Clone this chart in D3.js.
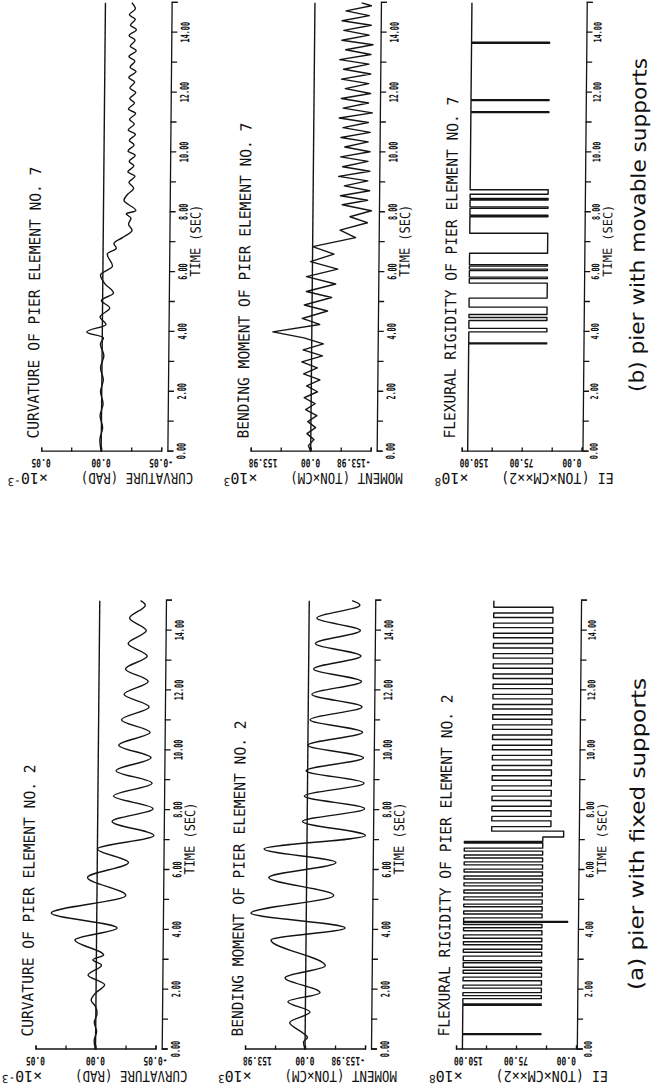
<!DOCTYPE html>
<html>
<head>
<meta charset="utf-8">
<script src="https://cdn.jsdelivr.net/npm/d3@7"></script>
<style>
  html, body { margin: 0; padding: 0; background: #fff; }
  svg { display: block; }
  .mono { font-family: "DejaVu Sans Mono", "Liberation Mono", monospace; fill: #111; }
  .cap { font-family: "DejaVu Sans", "Verdana", sans-serif; fill: #111; }
</style>
</head>
<body>
<svg id="chart" width="656" height="1089"></svg>
<script>
// ---------------------------------------------------------------
// Time histories of pier element response (fixed / movable supports)
// Values: curvature (x10^-3 rad), moment (x10^3 ton*cm), EI (x10^8 ton*cm^2)
// Each series is a list of [time (s), value] turning points.
// ---------------------------------------------------------------

const timeTicks = d3.range(0, 16, 1);
const timeLabels = [0, 2, 4, 6, 8, 10, 12, 14];

const curvatureTicks = [0.05, 0.025, 0, -0.025, -0.05];
const curvatureLabels = ["0.05", "0.00", "-0.05"];
const momentTicks = [153.98, 76.99, 0, -76.99, -153.98];
const momentLabels = ["153.98", "0.00", "-153.98"];
const eiTicks = [150, 112.5, 75, 37.5, 0];
const eiLabels = ["150.00", "75.00", "0.00"];

// (a) fixed supports, element No. 2
const curvatureFixed = [[0,0],[0.3,0.0012],[0.6,-0.0008],[0.9,0.0012],[1.2,-0.001],[1.45,0.0005],[1.65,0.004],[1.9,0.0],[2.16,-0.0071],[2.49,0.0068],[2.82,-0.0043],[3.0,0.003],[3.16,-0.006],[3.66,0.018],[4.06,-0.017],[4.56,0.038],[5.15,-0.024],[5.75,0.008],[6.25,-0.026],[6.7,0.0],[7.15,-0.047],[7.62,-0.012],[8.05,-0.046],[8.47,-0.013],[8.9,-0.045],[9.32,-0.015],[9.75,-0.044],[10.17,-0.017],[10.6,-0.043],[11.02,-0.019],[11.45,-0.042],[11.87,-0.021],[12.3,-0.041],[12.72,-0.022],[13.15,-0.040],[13.57,-0.024],[14.0,-0.039],[14.42,-0.025],[14.85,-0.038],[15,-0.034]];

const momentFixed = [[0,0],[0.25,4],[0.4,-6],[0.55,6],[0.9,40],[1.25,-12],[1.6,45],[1.9,-37],[2.4,53],[2.8,-50],[3.66,90],[4.06,-100],[4.56,142],[5.15,-70],[5.75,97],[6.25,-75],[6.7,110],[7.15,-150],[7.62,12],[8.05,-147],[8.47,8],[8.9,-145],[9.32,4],[9.75,-143],[10.17,0],[10.6,-140],[11.02,-5],[11.45,-138],[11.87,-9],[12.3,-136],[12.72,-13],[13.15,-134],[13.57,-17],[14.0,-132],[14.42,-20],[14.85,-130],[15,-110]];

const eiFixed = [[0,142],[0.5,44],[0.53,142],[1.48,44],[1.52,142],[1.7,44],[1.8,142],[1.9,44],[2.05,142],[2.15,44],[2.3,142],[2.42,44],[2.55,142],[2.65,44],[2.75,142],[2.9,44],[2.97,142],[3.12,44],[3.25,142],[3.35,44],[3.5,142],[3.6,44],[3.72,142],[3.83,44],[3.97,142],[4.07,44],[4.18,142],[4.25,12],[4.28,142],[4.4,44],[4.53,142],[4.63,44],[4.77,142],[4.86,44],[5.0,142],[5.1,44],[5.23,142],[5.33,44],[5.47,142],[5.57,44],[5.7,142],[5.8,44],[5.93,142],[6.03,44],[6.17,142],[6.27,44],[6.4,142],[6.5,44],[6.63,142],[6.73,44],[6.9,142],[6.95,44],[7.1,18],[7.3,108],[7.45,34],[7.64,108],[7.79,34],[7.98,108],[8.13,34],[8.32,108],[8.47,34],[8.66,108],[8.81,34],[9.0,108],[9.15,34],[9.34,108],[9.49,34],[9.68,108],[9.83,34],[10.02,108],[10.17,34],[10.36,108],[10.51,34],[10.7,108],[10.85,34],[11.04,108],[11.19,34],[11.38,108],[11.53,34],[11.72,108],[11.87,34],[12.06,108],[12.21,34],[12.4,108],[12.55,34],[12.74,108],[12.89,34],[13.08,108],[13.23,34],[13.42,108],[13.57,34],[13.76,108],[13.91,34],[14.1,108],[14.25,34],[14.44,108],[14.59,34],[14.78,108],[15,108]];

// (b) movable supports, element No. 7
const curvatureMovable = [[0,0],[0.4,0.0012],[0.8,-0.001],[1.2,0.0012],[1.6,-0.0012],[2.0,0.001],[2.4,-0.0012],[2.8,0.0012],[3.2,-0.0015],[3.6,0.0015],[3.8,-0.001],[4.0,0.013],[4.25,-0.003],[4.5,0.002],[4.8,-0.006],[5.05,0.001],[5.3,-0.009],[5.6,-0.002],[5.9,0.002],[6.2,-0.008],[6.6,-0.0035],[6.8,-0.011],[6.95,-0.009],[7.15,-0.016],[7.4,-0.024],[7.6,-0.021],[7.8,-0.023],[7.95,-0.019],[8.05,-0.027],[8.4,-0.017],[8.6,-0.020],[8.8,-0.025],[9.0,-0.021],[9.2,-0.026],[9.35,-0.020],[9.55,-0.025],[9.7,-0.021],[9.9,-0.026],[10.05,-0.020],[10.25,-0.025],[10.4,-0.021],[10.6,-0.026],[10.75,-0.020],[10.95,-0.025],[11.1,-0.021],[11.3,-0.026],[11.45,-0.020],[11.65,-0.025],[11.8,-0.021],[12.0,-0.026],[12.15,-0.021],[12.35,-0.025],[12.5,-0.020],[12.7,-0.026],[12.85,-0.021],[13.05,-0.025],[13.2,-0.020],[13.4,-0.026],[13.55,-0.021],[13.75,-0.025],[13.9,-0.020],[14.1,-0.026],[14.25,-0.021],[14.45,-0.025],[14.6,-0.020],[14.8,-0.025],[15,-0.022]];

const momentMovable = [[0,0],[0.2,6],[0.4,-8],[0.6,10],[0.8,-12],[1.0,8],[1.2,-15],[1.4,14],[1.6,-10],[1.8,18],[2.0,-16],[2.2,12],[2.4,-22],[2.6,20],[2.8,-15],[3.0,25],[3.2,-28],[3.4,22],[3.6,-30],[3.8,20],[4.0,100],[4.25,-20],[4.45,25],[4.7,-40],[4.9,20],[5.15,-50],[5.35,15],[5.6,-60],[5.85,15],[6.1,-65],[6.35,5],[6.6,-55],[6.85,0],[7.15,-110],[7.4,-70],[7.65,-140],[7.85,-95],[8.05,-150],[8.25,-75],[8.4,-140],[8.55,-70],[8.72,-145],[8.88,-80],[9.05,-140],[9.2,-65],[9.37,-145],[9.52,-75],[9.7,-140],[9.85,-70],[10.02,-145],[10.18,-80],[10.35,-140],[10.5,-70],[10.67,-145],[10.83,-75],[11.0,-140],[11.15,-65],[11.32,-150],[11.48,-75],[11.65,-140],[11.8,-70],[11.97,-145],[12.13,-80],[12.3,-140],[12.45,-70],[12.62,-145],[12.78,-75],[12.95,-140],[13.1,-65],[13.27,-145],[13.43,-80],[13.6,-150],[13.75,-70],[13.92,-140],[14.08,-75],[14.25,-145],[14.4,-70],[14.57,-140],[14.73,-80],[14.9,-145],[15,-120]];

const eiMovable = [[0,142.5],[3.6,45],[3.63,142.5],[4.0,45],[4.12,142.5],[4.38,45],[4.48,142.5],[4.58,45],[4.83,142.5],[5.13,45],[5.63,142.5],[5.78,45],[5.83,142.5],[6.05,45],[6.1,142.5],[6.2,45],[6.25,142.5],[6.63,45],[7.3,142.5],[7.85,45],[7.9,142.5],[8.13,45],[8.18,142.5],[8.41,45],[8.46,142.5],[8.6,45],[8.75,142.5],[11.33,45],[11.36,142.5],[11.73,45],[11.76,142.5],[13.65,45],[13.68,142.5],[15,142.5]];

// ---------------------------------------------------------------
// Layout (upright frame: time runs left to right, page is turned
// a quarter turn counter-clockwise for display)
// ---------------------------------------------------------------
const W = 1089, H = 656;
const secPx = 29.92;
const sections = [
  { key: "a", u0: 39.5, caption: "(a) pier with fixed supports", no: "2",
    series: [curvatureFixed, momentFixed, eiFixed], capU: 99, capLen: 312, capV: 647 },
  { key: "b", u0: 637.4, caption: "(b) pier with movable supports", no: "7",
    series: [curvatureMovable, momentMovable, eiMovable], capU: 697, capLen: 334, capV: 642 }
];

const panels = [
  { title: "CURVATURE OF PIER ELEMENT NO. ", top: 40.3, bottom: 160.3, axisV: 166.5,
    domain: [0.05, -0.05], ticks: curvatureTicks, labels: curvatureLabels,
    unit: "CURVATURE (RAD)", exp: "-3", zero: true, titleV: 37.5, titleLen: 272,
    tickGap: 18, tickFont: 12, timeGap: 31, timeFont: 14, curve: d3.curveMonotoneX },
  { title: "BENDING MOMENT OF PIER ELEMENT NO. ", top: 249.8, bottom: 369.8, axisV: 375.8,
    domain: [153.98, -153.98], ticks: momentTicks, labels: momentLabels,
    unit: "MOMENT (TON\u00D7CM)", exp: "3", zero: true, titleV: 247.5, titleLen: 316,
    tickGap: 18, tickFont: 12, timeGap: 31, timeFont: 14, curve: d3.curveMonotoneX },
  { title: "FLEXURAL RIGIDITY OF PIER ELEMENT NO. ", top: 460.8, bottom: 580.8, axisV: 581.6,
    domain: [150, 0], ticks: eiTicks, labels: eiLabels,
    unit: "EI  (TON\u00D7CM\u00D7\u00D72)", exp: "8", zero: false, titleV: 454, titleLen: 342,
    tickGap: 15, tickFont: 10.5, timeGap: 27.5, timeFont: 12.5, curve: d3.curveStepAfter }
];

const svg = d3.select("#chart");
// the sheet is slightly sheared; the upright content is then turned onto the page
const sheet = svg.append("g").attr("transform", "translate(5.17,0) skewX(-0.544)");
const root = sheet.append("g").attr("transform", `translate(0,${W}) rotate(-90)`);

const ink = "#141414";

sections.forEach(sec => {
  const x = d3.scaleLinear().domain([0, 15]).range([sec.u0, sec.u0 + 15 * secPx]);
  const g = root.append("g");

  panels.forEach((p, i) => {
    const y = d3.scaleLinear().domain(p.domain).range([p.top, p.bottom]);
    const pg = g.append("g");

    // value axis (ticks pointing into the plot)
    const yAxis = d3.axisRight(y).tickValues(p.ticks).tickSize(4).tickSizeOuter(4).tickFormat("");
    pg.append("g").attr("transform", `translate(${sec.u0},0)`).call(yAxis)
      .call(s => s.selectAll("path,line").attr("stroke", ink).attr("stroke-width", 1.3));

    // time axis
    const xAxis = d3.axisBottom(x).tickValues(timeTicks).tickSize(6).tickSizeOuter(6)
      .tickFormat(d => timeLabels.includes(d) ? d.toFixed(2) : "");
    const xa = pg.append("g").attr("transform", `translate(0,${p.axisV})`).call(xAxis);
    xa.selectAll("path,line").attr("stroke", ink).attr("stroke-width", 1.3);
    xa.selectAll("text")
      .attr("class", "mono").attr("font-size", p.tickFont).attr("font-weight", "bold")
      .attr("y", 0).attr("dy", 0)
      .attr("transform", `translate(0,${p.tickGap})`)
      .each(function(d) {
        const t = d3.select(this);
        if (t.text()) t.attr("textLength", t.text().length * 4.1).attr("lengthAdjust", "spacingAndGlyphs");
      });

    pg.append("text").attr("class", "mono")
      .attr("x", x(7.05)).attr("y", p.axisV + p.timeGap)
      .attr("text-anchor", "middle").attr("font-size", p.timeFont)
      .attr("textLength", 72).attr("lengthAdjust", "spacingAndGlyphs")
      .text("TIME (SEC)");

    // value tick labels (written along the value axis)
    const labVals = [p.ticks[0], p.ticks[2], p.ticks[4]];
    labVals.forEach((v, k) => {
      const txt = p.labels[k];
      const anchor = i === 0 ? "middle" : (k === 0 ? "end" : (k === 2 ? "start" : "middle"));
      const vv = y(v) + (i === 0 ? 0 : (k === 0 ? -2 : 0));
      pg.append("text").attr("class", "mono")
        .attr("transform", `translate(${sec.u0 - 7},${vv}) rotate(-90)`)
        .attr("text-anchor", anchor).attr("font-size", 11.5).attr("font-weight", "bold")
        .attr("textLength", txt.length * 4.8).attr("lengthAdjust", "spacingAndGlyphs")
        .text(txt);
    });

    // axis unit and scale factor
    pg.append("text").attr("class", "mono")
      .attr("transform", `translate(${sec.u0 - 21},${p.top + 96}) rotate(-90)`)
      .attr("text-anchor", "middle").attr("font-size", 15)
      .attr("textLength", p.unit.length * 7.5).attr("lengthAdjust", "spacingAndGlyphs")
      .text(p.unit);

    const ex = pg.append("text").attr("class", "mono")
      .attr("transform", `translate(${sec.u0 - 21},${p.top + 7}) rotate(-90)`)
      .attr("font-size", 15);
    ex.append("tspan").text("\u00D710");
    ex.append("tspan").attr("dy", -5).attr("font-size", 11).text(p.exp);

    // title
    pg.append("text").attr("class", "mono")
      .attr("x", sec.u0 + 13).attr("y", p.titleV)
      .attr("font-size", 15.5)
      .attr("textLength", p.titleLen).attr("lengthAdjust", "spacingAndGlyphs")
      .text(p.title + sec.no);

    // zero reference line
    if (p.zero) {
      pg.append("line").attr("x1", x(0)).attr("x2", x(15))
        .attr("y1", y(0)).attr("y2", y(0))
        .attr("stroke", ink).attr("stroke-width", 1.4);
    }

    // response trace
    const data = sec.series[i];
    const curve = (sec.key === "b" && i === 1) ? d3.curveLinear : p.curve;
    const line = d3.line().x(d => x(d[0])).y(d => y(d[1])).curve(curve);
    pg.append("path").datum(data).attr("d", line)
      .attr("fill", "none").attr("stroke", ink).attr("stroke-width", 1.4)
      .attr("stroke-linejoin", "round");
  });

  g.append("text").attr("class", "cap")
    .attr("x", sec.capU).attr("y", sec.capV)
    .attr("font-size", 20)
    .attr("textLength", sec.capLen).attr("lengthAdjust", "spacingAndGlyphs")
    .text(sec.caption);
});
</script>
</body>
</html>
